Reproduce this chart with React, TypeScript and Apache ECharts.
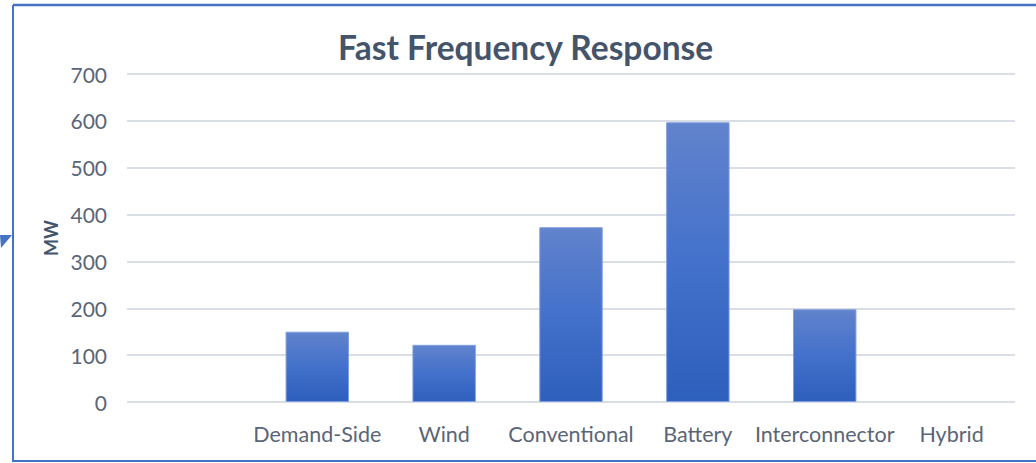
import React, { useEffect, useRef } from "react";
import * as echarts from "echarts";

const categories = ["", "Demand-Side", "Wind", "Conventional", "Battery", "Interconnector", "Hybrid"];
const values = [0, 150, 122, 373, 597, 198, 0];
const yTicks = { min: 0, max: 700, interval: 100 };

export default function App() {
  const ref = useRef<HTMLDivElement>(null);
  useEffect(() => {
    document.body.style.margin = "0";
    const chart = echarts.init(ref.current!, null, { renderer: "svg" });
    const font = "Lato, 'Open Sans', sans-serif";
    chart.setOption({
      animation: false,
      backgroundColor: "#ffffff",
      title: {
        text: "Fast Frequency Response",
        left: 333,
        top: 25,
        textStyle: { fontFamily: font, fontSize: 33.5, fontWeight: "bold", color: "#44546a" },
      },
      grid: { left: 127, right: 21, top: 74, bottom: 61, containLabel: false },
      xAxis: {
        type: "category",
        data: categories,
        axisLine: { show: false },
        axisTick: { show: false },
        axisLabel: { color: "#5a6577", fontFamily: font, fontSize: 21.5, margin: 21, interval: 0 },
      },
      yAxis: {
        type: "value",
        min: yTicks.min,
        max: yTicks.max,
        interval: yTicks.interval,
        name: "MW",
        nameLocation: "middle",
        nameGap: 64,
        nameTextStyle: { color: "#44546a", fontFamily: font, fontSize: 18, fontWeight: "bold" },
        axisLine: { show: false },
        axisTick: { show: false },
        axisLabel: { color: "#5a6577", fontFamily: font, fontSize: 21, margin: 20 },
        splitLine: { lineStyle: { color: "#d9dee6", width: 2 } },
      },
      series: [
        {
          type: "bar",
          data: values.map((v) => ({ value: v, itemStyle: { borderWidth: v === 0 ? 0 : 1 } })),
          barWidth: "50%",
          itemStyle: {
            color: new echarts.graphic.LinearGradient(0, 0, 0, 1, [
              { offset: 0, color: "#6283cc" },
              { offset: 0.5, color: "#4371cb" },
              { offset: 1, color: "#2d5fbc" },
            ]),
            borderColor: "#7f9fde",
          },
        },
      ],
      graphic: [
        {
          type: "polyline",
          shape: { points: [[13, 5], [1036, 5]] },
          style: { stroke: "#4472c4", lineWidth: 2.5, fill: "none" },
        },
        {
          type: "polyline",
          shape: { points: [[13, 5], [13, 461], [1036, 461]] },
          style: { stroke: "#4472c4", lineWidth: 2, fill: "none" },
        },
        {
          type: "polygon",
          shape: { points: [[0, 235], [12, 235], [1, 248]] },
          style: { fill: "#4472c4" },
        },
      ],
    });
    return () => chart.dispose();
  }, []);
  return <div ref={ref} style={{ position: "absolute", left: 0, top: 0, width: 1036, height: 463 }} />;
}
